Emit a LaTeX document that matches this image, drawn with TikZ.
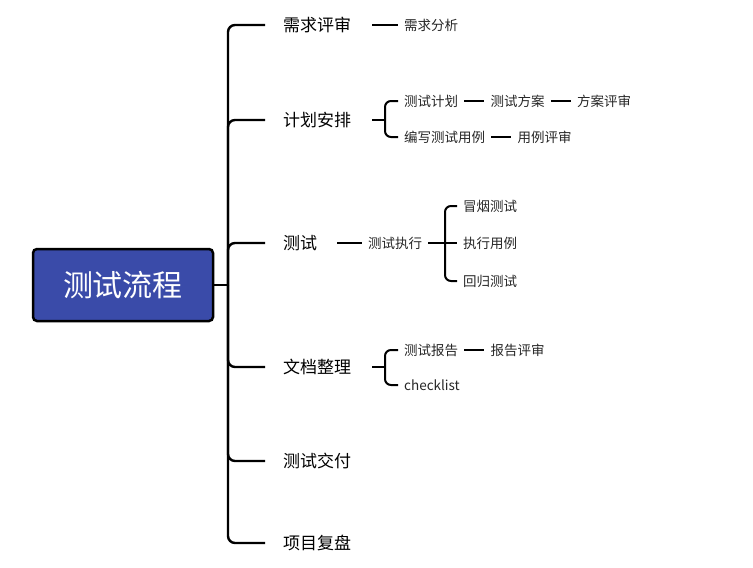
\documentclass[tikz,border=0pt]{standalone}
\usepackage{fontspec}
\setmainfont{Noto Sans CJK SC}
\usetikzlibrary{positioning}
\definecolor{rootblue}{HTML}{3A4BA9}
\begin{document}
\begin{tikzpicture}[x=1pt,y=-1pt,
  root/.style={draw=black,line width=2.5pt,fill=rootblue,rounded corners=4pt,
    minimum width=180pt,minimum height=72pt,text=white,font=\fontsize{30}{33}\selectfont},
  topic/.style={anchor=west,inner xsep=18pt,font=\fontsize{17}{20}\selectfont},
  leaf/.style={anchor=west,inner xsep=6pt,font=\fontsize{13.5}{16}\selectfont,text=black!85},
  trunk/.style={line width=2.4pt,rounded corners=7pt},
  twig/.style={line width=2pt}]
  \useasboundingbox (0,0) rectangle (753,568);
  % 中心
  \node[root] (main) at (123,285) {测试流程};
  \coordinate (t) at (228,285);
  % 一级分支
  \node[topic] (req)  at (265,25)  {需求评审};
  \node[topic] (plan) at (265,120) {计划安排};
  \node[topic] (test) at (265,243) {测试};
  \node[topic] (doc)  at (265,367) {文档整理};
  \node[topic] (dlv)  at (265,461) {测试交付};
  \node[topic] (rev)  at (265,543) {项目复盘};
  \draw[trunk] (main.east) -- (t);
  \foreach \n in {req,plan,test,doc,dlv,rev}
    \draw[trunk] (t) |- (\n.west);
  % 需求评审
  \node[leaf] (ana) at (398,25) {需求分析};
  \draw[twig] (372,25) -- (ana.west);
  % 计划安排
  \node[leaf] (p1) at (398,101) {测试计划};
  \node[leaf] (p2) at (398,137) {编写测试用例};
  \node[leaf,right=20pt of p1.east,anchor=west] (p3) {测试方案};
  \node[leaf,right=20pt of p3.east,anchor=west] (p4) {方案评审};
  \node[leaf,right=20pt of p2.east,anchor=west] (p5) {用例评审};
  \coordinate (pb) at (385,120);
  \draw[twig] (372,120) -- (pb);
  \draw[twig,rounded corners=6pt] (p1.west) -| (pb) |- (p2.west);
  \draw[twig] (p1) -- (p3) (p3) -- (p4) (p2) -- (p5);
  % 测试
  \node[leaf] (run) at (362,243) {测试执行};
  \draw[twig] (337,243) -- (run.west);
  \node[leaf] (r1) at (457,206) {冒烟测试};
  \node[leaf] (r2) at (457,243) {执行用例};
  \node[leaf] (r3) at (457,281) {回归测试};
  \coordinate (rb) at (445,243);
  \draw[twig] (run.east) -- (r2.west);
  \draw[twig,rounded corners=6pt] (r1.west) -| (rb) |- (r3.west);
  % 文档整理
  \node[leaf] (d1) at (398,350) {测试报告};
  \node[leaf] (d2) at (398,385) {checklist};
  \node[leaf,right=20pt of d1.east,anchor=west] (d3) {报告评审};
  \coordinate (db) at (385,367);
  \draw[twig] (372,367) -- (db);
  \draw[twig,rounded corners=6pt] (d1.west) -| (db) |- (d2.west);
  \draw[twig] (d1) -- (d3);
\end{tikzpicture}
\end{document}
